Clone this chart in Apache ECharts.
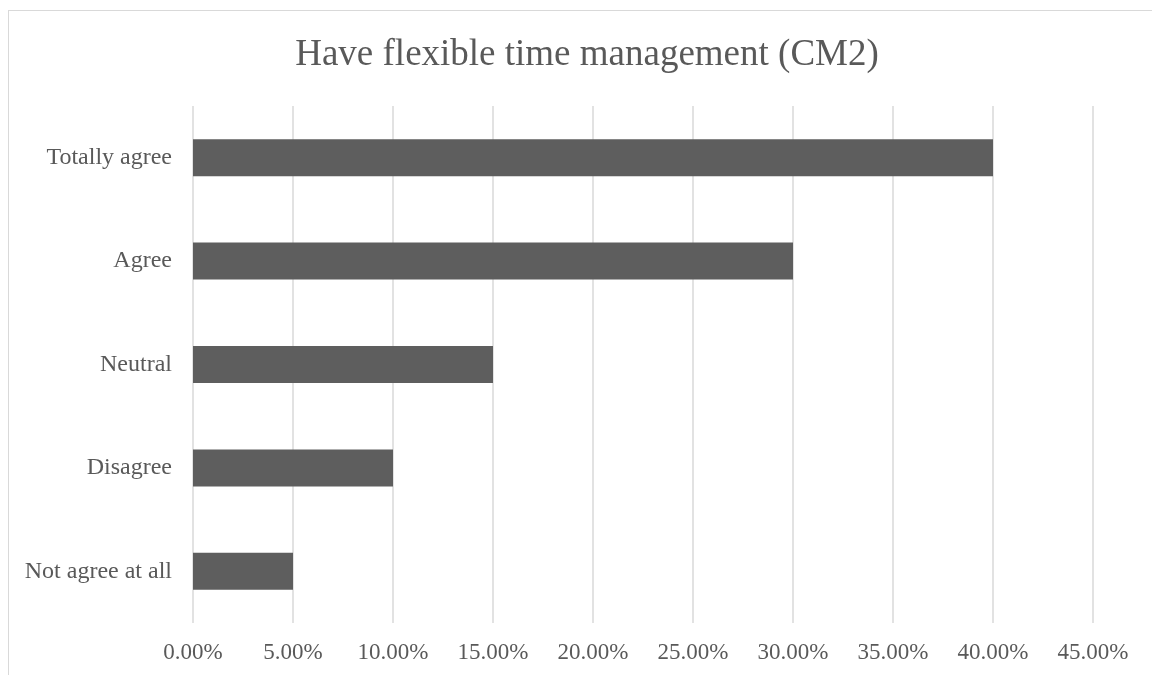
<!DOCTYPE html>
<html>
<head>
<meta charset="utf-8">
<script src="https://cdn.jsdelivr.net/npm/echarts@6/dist/echarts.min.js"></script>
<style>
  html, body { margin: 0; padding: 0; background: #fff; }
  #chart { width: 1152px; height: 675px; position: relative; }
  /* chart frame: only top and left edges show in the crop */
  #frame { position: absolute; left: 8px; top: 10px; width: 1200px; height: 700px;
           border-top: 1px solid #d9d9d9; border-left: 1px solid #d9d9d9; pointer-events: none; }
</style>
</head>
<body>
<div id="chart"></div>
<div id="frame"></div>
<script>
// 数据
var categories = ['Not agree at all', 'Disagree', 'Neutral', 'Agree', 'Totally agree'];
var shares = [0.05, 0.10, 0.15, 0.30, 0.40];
var tickStep = 0.05;
var axisMax = 0.45;

var myChart = echarts.init(document.getElementById('chart'));

var font = '"Liberation Serif", "Times New Roman", serif';

var option = {
  animation: false,
  title: {
    text: 'Have flexible time management (CM2)',
    left: 582,
    textAlign: 'center',
    top: 32,
    textStyle: {
      color: '#595959',
      fontFamily: font,
      fontSize: 37,
      fontWeight: 'normal'
    }
  },
  grid: {
    left: 193,
    right: 59,
    top: 106,
    height: 517,
    containLabel: false
  },
  xAxis: {
    type: 'value',
    min: 0,
    max: axisMax,
    interval: tickStep,
    axisLine: { show: false },
    axisTick: { show: false },
    splitLine: { lineStyle: { color: '#d9d9d9', width: 1.5 } },
    axisLabel: {
      color: '#595959',
      fontFamily: font,
      fontSize: 23,
      margin: 18,
      formatter: function (v) { return (v * 100).toFixed(2) + '%'; }
    }
  },
  yAxis: {
    type: 'category',
    data: categories,
    axisLine: { show: false },
    axisTick: { show: false },
    axisLabel: {
      color: '#595959',
      fontFamily: font,
      fontSize: 24,
      margin: 21
    }
  },
  series: [{
    type: 'bar',
    data: shares,
    barWidth: 37,
    itemStyle: { color: '#5e5e5e' }
  }]
};

myChart.setOption(option);
</script>
</body>
</html>
